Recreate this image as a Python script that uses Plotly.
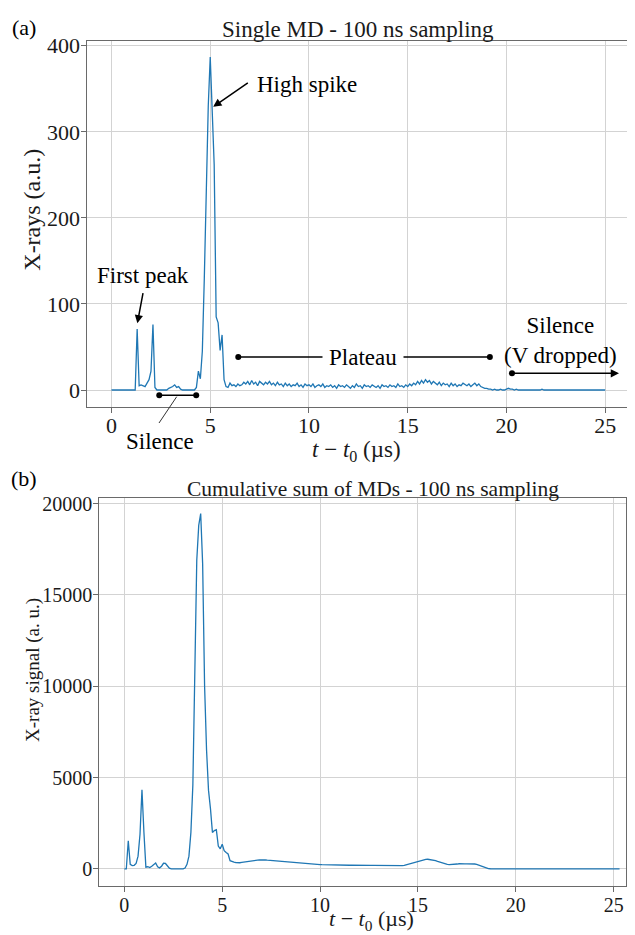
import plotly.graph_objects as go

# ---------------- data ----------------
dt_us = 0.1  # 100 ns sampling

single_md = (
    [0] * 13 + [71] +
    [5, 6, 5, 4, 8, 12, 22, 76, 3] +
    [0] * 6 +
    [2, 3, 4, 6, 3, 4, 1] +
    [0] * 7 +
    [3, 22, 13, 45, 130, 240, 330, 387, 320, 262, 85, 78, 46, 64, 12] +
    [4, 3] +
    [8, 5, 6, 4, 7, 5, 6, 9, 7, 10] +
    [6, 11, 7, 9, 5, 10, 8, 6, 9, 7] +
    [10, 6, 8, 5, 9, 6, 7, 4, 8, 5] +
    [7, 4, 6, 5, 8, 4, 6, 3, 7, 5] +
    [6, 4, 7, 3, 5, 6, 4, 7, 3, 5] +
    [4, 6, 3, 5, 2, 6, 4, 5, 3, 6] +
    [4, 2, 5, 3, 7, 4, 5, 2, 6, 4] +
    [5, 3, 6, 4, 3, 5, 2, 6, 4, 5] +
    [3, 6, 4, 5, 3, 7, 4, 5, 3, 6] +
    [4, 7, 5, 8, 6, 10, 7, 11, 8, 12] +
    [9, 11, 7, 10, 8, 6, 9, 5, 8, 6] +
    [7, 4, 8, 5, 7, 4, 6, 5, 8, 6] +
    [5, 7, 4, 6, 8, 5, 7, 4, 3, 2] +
    [2, 1, 1, 0, 1, 0, 0, 1, 0, 0] +
    [1, 2, 1, 1, 0, 1, 0, 0, 0, 0] +
    [0, 0, 0, 0, 0, 0, 0, 0, 1, 0, 0, 0, 0, 0, 0, 0, 0, 0, 0, 0] +
    [0] * 21
)

cumulative = (
    [0, 0] + [1540] +
    [250, 180, 200, 300, 700, 1900, 4330, 2000, 100] +
    [120, 80, 150, 250, 330, 120, 60, 150, 310, 300, 160, 40] +
    [0] * 7 +
    [50, 250, 700, 2000, 4600, 10300, 16900, 18800, 19450, 16700, 10000,
     6500, 4300, 3300, 2000, 2100, 2150, 1250, 1100, 1350, 1000, 900, 820,
     450, 400, 380, 350] +
    [330, 340] +
    [360, 380, 400, 410, 420, 440, 450, 460, 480, 490] +
    [500, 490, 495, 480, 470, 460, 450, 440, 420, 410] +
    [400, 390, 380, 370, 360, 350, 340, 330, 320, 310] +
    [300, 295, 290, 280, 270, 265, 260, 255, 250, 245] +
    [240, 235, 230, 228, 225, 222, 220, 218, 215, 212] +
    [210, 208, 205, 207, 204, 202, 205, 200, 203, 200] +
    [198, 200, 196, 199, 195, 197, 194, 196, 193, 195] +
    [192, 194, 190, 193, 189, 191, 188, 190, 186, 188] +
    [185, 183, 186, 200, 230, 260, 290, 320, 360, 400] +
    [430, 460, 490, 510, 525, 530, 520, 505, 480, 450] +
    [410, 370, 330, 300, 270, 250, 240, 238, 245, 255] +
    [270, 285, 295, 290, 280, 275, 280, 285, 278, 270] +
    [250, 210, 160, 110, 70, 40, 20, 10, 5, 2] +
    [0] * 64
)

t_single = [round(i * dt_us, 1) for i in range(len(single_md))]
t_cum = [round(i * dt_us, 1) for i in range(len(cumulative))]

x_ticks = [0, 5, 10, 15, 20, 25]
y_ticks_top = [0, 100, 200, 300, 400]
y_ticks_bot = [0, 5000, 10000, 15000, 20000]
y_ticklabels_bot = ["0", "5000", "10000", "15000", "20000"]

# annotation anchor points (data units of panel a)
silence_bracket_x = [2.42, 4.29]
plateau_x = [6.42, 19.16]
vdrop_x = [20.28, 25.7]

# ---------------- figure ----------------
# the page body has an 8px margin, so the figure is offset by 8px
OFF = 8
W, H = 627, 927
FONT = "Liberation Serif"
LINE = "#1f77b4"
GRID = "#d3d3d3"
AX = "#6a6a6a"
TXT = "#1a1a1a"

fig = go.Figure()

fig.add_trace(go.Scatter(x=t_single, y=single_md, mode="lines",
                         line=dict(color=LINE, width=1.3),
                         xaxis="x", yaxis="y", showlegend=False))
fig.add_trace(go.Scatter(x=t_cum, y=cumulative, mode="lines",
                         line=dict(color=LINE, width=1.3),
                         xaxis="x2", yaxis="y2", showlegend=False))

# bracket marks in panel (a)
fig.add_trace(go.Scatter(x=silence_bracket_x, y=[-6.2, -6.2], mode="lines+markers",
                         line=dict(color="black", width=1.5),
                         marker=dict(color="black", size=6),
                         xaxis="x", yaxis="y", showlegend=False, cliponaxis=False))
fig.add_trace(go.Scatter(x=plateau_x, y=[38.3, 38.3], mode="lines+markers",
                         line=dict(color="black", width=1.5),
                         marker=dict(color="black", size=6),
                         xaxis="x", yaxis="y", showlegend=False, cliponaxis=False))
fig.add_trace(go.Scatter(x=[vdrop_x[0]], y=[19.4], mode="markers",
                         marker=dict(color="black", size=6),
                         xaxis="x", yaxis="y", showlegend=False, cliponaxis=False))

def px2paper(px, py):
    return (px - OFF) / W, 1 - (py - OFF) / H

def dom_x(a, b):
    return [(a - OFF) / W, (b - OFF) / W]

def dom_y(top, bottom):
    return [1 - (bottom - OFF) / H, 1 - (top - OFF) / H]

axis_common = dict(showline=True, mirror=True, linecolor=AX, linewidth=1,
                   ticks="outside", ticklen=5, tickcolor=AX, tickwidth=1,
                   showgrid=True, gridcolor=GRID, gridwidth=1,
                   zeroline=False, automargin=False)

fig.update_layout(
    width=W, height=H,
    margin=dict(l=0, r=0, t=0, b=0, autoexpand=False),
    paper_bgcolor="white", plot_bgcolor="white",
    font=dict(family=FONT, color="black"),
    xaxis=dict(domain=dom_x(87.3, 628.3), range=[-1.225, 26.17],
               tickvals=x_ticks, anchor="y", ticklabelstandoff=-6,
               tickfont=dict(size=22, family=FONT, color=TXT), **axis_common),
    yaxis=dict(domain=dom_y(41, 406.7), range=[-19.4, 405.5],
               tickvals=y_ticks_top, anchor="x", ticklabelstandoff=-3,
               tickfont=dict(size=22, family=FONT, color=TXT), **axis_common),
    xaxis2=dict(domain=dom_x(99.3, 626), range=[-1.28, 25.63],
                tickvals=x_ticks, anchor="y2", ticklabelstandoff=-4,
                tickfont=dict(size=20, family=FONT, color=TXT), **axis_common),
    yaxis2=dict(domain=dom_y(498, 886), range=[-933, 20302],
                tickvals=y_ticks_bot, ticktext=y_ticklabels_bot, anchor="x2",
                ticklabelstandoff=-3,
                tickfont=dict(size=20, family=FONT, color=TXT), **axis_common),
)

ann = []

def ptext(txt, px, py, size, angle=0, color=TXT):
    x, y = px2paper(px, py)
    ann.append(dict(text=txt, x=x, y=y, xref="paper", yref="paper",
                    xanchor="center", yanchor="middle", showarrow=False,
                    textangle=angle, font=dict(size=size, family=FONT, color=color)))

xtitle = "<i>t</i> − <i>t</i><sub>0</sub> (µs)"
ptext("(a)", 24, 27, 22, color="black")
ptext("Single MD - 100 ns sampling", 357.5, 30, 23)
ptext("X-rays (a.u.)", 31.7, 210, 24, angle=-90)
ptext(xtitle, 356, 451, 23)
ptext("(b)", 24, 478, 22, color="black")
ptext("Cumulative sum of MDs - 100 ns sampling", 373, 489, 21.5)
ptext("X-ray signal (a. u.)", 33, 670, 19, angle=-90)
ptext(xtitle, 371, 920, 22)
ptext("Silence", 159.7, 441.5, 23, color="black")

def dtext(txt, x, y, size=23, **kw):
    d = dict(text=txt, x=x, y=y, xref="x", yref="y", showarrow=False,
             xanchor="center", yanchor="middle",
             font=dict(size=size, family=FONT, color="black"))
    d.update(kw)
    ann.append(d)

def darrow(x, y, ax, ay, head=2):
    ann.append(dict(text="", x=x, y=y, ax=ax, ay=ay, xref="x", yref="y",
                    axref="x", ayref="y", showarrow=True, arrowhead=head,
                    arrowsize=1.1, arrowwidth=1.5, arrowcolor="black", standoff=0,
                    startstandoff=0))

dtext("High spike", 9.9, 355.5)
darrow(5.15, 329, 6.98, 358)
dtext("First peak", 1.59, 133.6)
darrow(1.31, 77.5, 1.61, 114.2)
dtext("Plateau", 12.73, 38.3, bgcolor="white", borderpad=6)
dtext("Silence<br>(V dropped)", 22.76, 57)
darrow(vdrop_x[1], 19.4, vdrop_x[0], 19.4)

fig.update_layout(annotations=ann)

# leader line from silence bracket to its label (paper coords)
x0, y0 = px2paper(176.7, 396.7)
x1, y1 = px2paper(159, 423)
fig.add_shape(type="line", xref="paper", yref="paper", x0=x0, y0=y0, x1=x1, y1=y1,
              line=dict(color="#333", width=1))

fig.write_html("out.html")
